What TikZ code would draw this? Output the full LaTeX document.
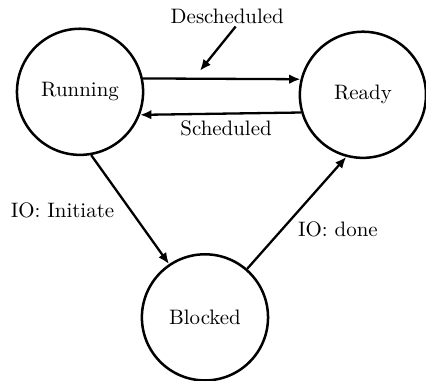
\documentclass[tikz,border=0pt]{standalone}
\usepackage{tikz}
\usetikzlibrary{positioning,arrows.meta}
\tikzset{
  state/.style={circle,draw=black,line width=1.2pt,minimum size=2.12cm,inner sep=0pt},
  lbl/.style={inner sep=1pt},
  edge/.style={-{Latex[length=1.9mm,width=1.6mm]},line width=1.1pt}
}
\begin{document}
\begin{tikzpicture}
  \useasboundingbox (0,0) rectangle (7.16,6.40);
  \node[state] (run) at (1.345,4.857) {Running};
  \node[state] (ready) at (6.10,4.807) {Ready};
  \node[state] (blk) at (3.445,1.066) {Blocked};
  \node[lbl] (desch) at (3.82,6.12) {Descheduled};
  \node[lbl] (sched) at (3.80,4.25) {Scheduled};
  \node[lbl] (ioinit) at (1.05,2.87) {IO: Initiate};
  \node[lbl] (iodone) at (5.68,2.55) {IO: done};
  \coordinate (dtip) at (3.36,5.21);
  \draw[edge] (run.12) -- (ready.166);
  \draw[edge] (ready.196) -- (run.339);
  \draw[edge] (run.280) -- (blk.124);
  \draw[edge] (blk.49) -- (ready.255);
  \draw[edge] ([xshift=4pt]desch.south) -- (dtip);
\end{tikzpicture}
\end{document}
